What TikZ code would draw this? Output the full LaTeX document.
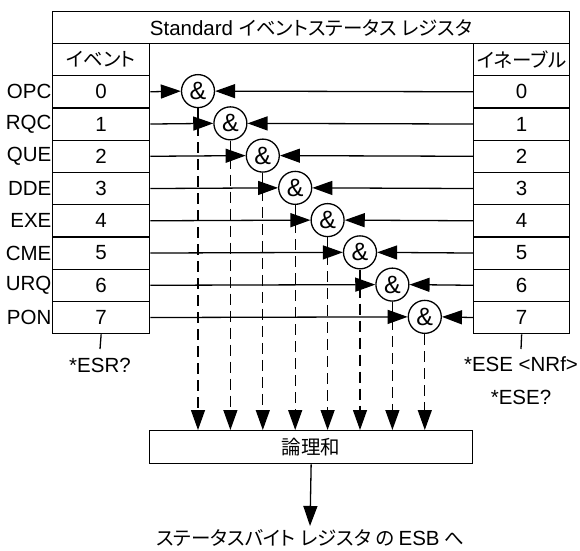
\documentclass[tikz,border=0pt]{standalone}
\usepackage{fontspec}
\setmainfont{Liberation Sans}
\newfontfamily\jp[RawFeature=+palt]{Noto Sans CJK JP}
\usetikzlibrary{arrows.meta}
\begin{document}
\begin{tikzpicture}[x=1pt,y=-1pt,
  line width=1.3pt,
  every node/.style={font=\fontsize{20.5}{22}\selectfont, inner sep=0pt},
  cell/.style={draw, minimum width=97pt, minimum height=32.25pt, anchor=north west},
  andgate/.style={draw, circle, minimum size=33pt, font=\fontsize{25}{26}\selectfont},
  tip/.style={-{Triangle[length=20pt,width=14pt]}},
  dsh/.style={dash pattern=on 11pt off 6pt}
]
\useasboundingbox (0,0) rectangle (580,550);
% title
\node[draw, minimum width=517pt, minimum height=32pt, anchor=north west] (title) at (52,11) {Standard {\jp\fontsize{19.5}{22}\selectfont イベントステータス レジスタ}};
\node[cell, minimum height=32pt] (evh) at (52,43) {\jp\fontsize{19.5}{22}\selectfont イベント};
\node[cell, minimum width=96pt, minimum height=32pt] (enh) at (473,43) {\jp\fontsize{19.5}{22}\selectfont イネーブル};
% rows
\foreach \lab [count=\i from 0] in {OPC,RQC,QUE,DDE,EXE,CME,URQ,PON}{
  \node[cell] (ev\i) at (52,75+32.25*\i) {\i};
  \node[cell, minimum width=96pt] (en\i) at (473,75+32.25*\i) {\i};
  \node[anchor=east] (lab\i) at (ev\i.west) {\lab};
  \node[andgate] (g\i) at (198+32.4*\i, 91.1+32.25*\i) {\&};
  \draw[tip] (ev\i.east) -- (g\i.west);
  \draw[tip] (en\i.west) -- (g\i.east);
}
% OR box
\node[draw, minimum width=323pt, minimum height=33pt, anchor=north west] (or) at (149,430) {\jp\fontsize{19.5}{22}\selectfont 論理和};
\foreach \i in {0,...,7}{
  \coordinate (t\i) at (g\i.south |- or.north);
  \draw[tip, dsh] (g\i.south) -- (t\i);
}
\node (esb) at (310,538) {\jp\fontsize{19.5}{22}\selectfont ステータスバイト レジスタ の {\rmfamily\fontsize{20.5}{22}\selectfont ESB} へ};
\draw[tip] (or.south) -- (310,526) coordinate (esbtip);
% ticks and commands
\node (esr) at (100,365) {*ESR?};
\draw (ev7.south) -- (100,349);
\node (ese) at (521,364) {*ESE <NRf>};
\node (eseq) at (521,397) {*ESE?};
\draw (en7.south) -- (521,349);
\end{tikzpicture}
\end{document}
